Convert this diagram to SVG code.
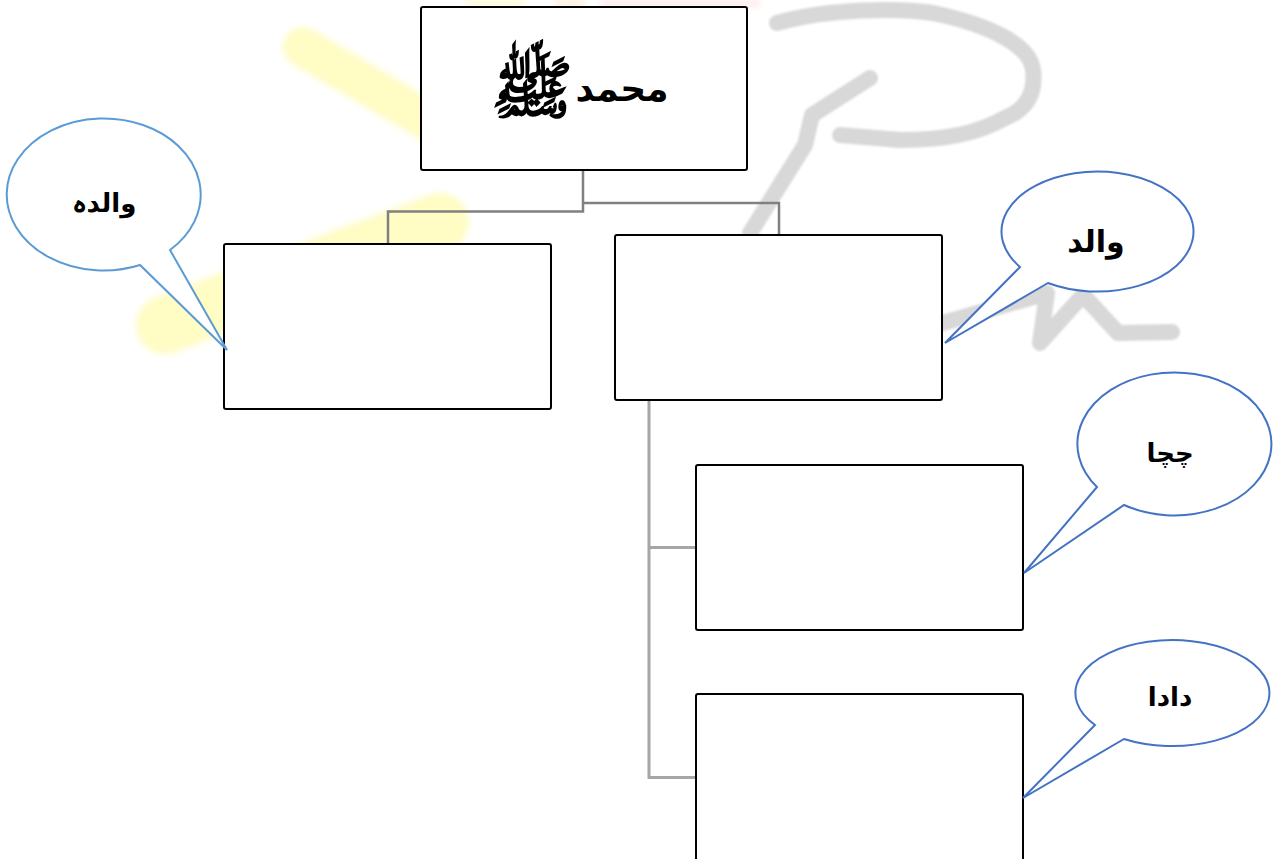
<svg xmlns="http://www.w3.org/2000/svg" width="1275" height="859" viewBox="0 0 1275 859">
<style>
.box{fill:#ffffff;stroke:#000000;stroke-width:2}
.conn{fill:none;stroke:#808080;stroke-width:2.5}
.conn2{fill:none;stroke:#a6a6a6;stroke-width:3}
.callout{fill:#ffffff;stroke:#4472c4;stroke-width:2;stroke-linejoin:miter}
.callout.light{stroke:#5b9bd5}
.lbl{font-family:"DejaVu Sans","Noto Sans",sans-serif;font-weight:bold;font-size:26px;fill:#000000;text-anchor:middle}
.wm-g{fill:none;stroke:#d8d8d8;stroke-width:16;stroke-linecap:round;stroke-linejoin:round}
.wm-y{fill:none;stroke:#fffcc4;stroke-linecap:round}
</style>
<defs>
<filter id="soft" x="-20%" y="-20%" width="140%" height="140%"><feGaussianBlur stdDeviation="3"/></filter>
<filter id="soft1" x="-10%" y="-10%" width="120%" height="120%"><feGaussianBlur stdDeviation="1"/></filter>
</defs>
<rect width="1275" height="859" fill="#ffffff"/>
<g id="watermark">
<g filter="url(#soft)">
<path class="wm-y" stroke-width="40" d="M303 47 L430 122"/>
<path class="wm-y" stroke-width="58" d="M165 325 L440 222"/>
<rect x="465" y="0" width="60" height="7" fill="#fffad6"/>
<rect x="555" y="0" width="30" height="7" fill="#ffeedd"/>
<rect x="600" y="0" width="160" height="7" fill="#ffeaea"/>
</g>
<g filter="url(#soft1)">
<path class="wm-g" d="M777 23 C830 8 900 8 933 13 C990 25 1030 45 1033 70 C1036 95 1025 110 1005 118 C980 132 950 140 900 140 L840 135"/>
<path class="wm-g" stroke-width="18" d="M870 78 L812 115 L805 145 L750 233"/>
<path class="wm-g" d="M943 323 L1047 293 L1040 343 L1083 295 L1118 333 L1172 332"/>
</g>
</g>
<g id="connectors">
<path class="conn" d="M583 170 V211.5 H388 V244"/>
<path class="conn" d="M583 203 H779 V235"/>
<path class="conn2" d="M649 400 V777.5 H696"/>
<path class="conn2" d="M649 547.5 H696"/>
</g>
<g id="node-muhammad">
<rect class="box" x="421" y="7" width="326" height="163" rx="2"/>
<text class="lbl" x="622" y="101" style="font-size:36px" direction="rtl">محمد</text>
<text class="lbl" x="532" y="112" style="font-size:68px" direction="rtl">ﷺ</text>
</g>
<g id="node-mother">
<rect class="box" x="224" y="244" width="327" height="165" rx="2"/>
</g>
<g id="node-father">
<rect class="box" x="615" y="235" width="327" height="165" rx="2"/>
</g>
<g id="node-uncle">
<rect class="box" x="696" y="465" width="327" height="165" rx="2"/>
</g>
<g id="node-grandfather">
<rect class="box" x="696" y="694" width="327" height="170" rx="2"/>
</g>
<g id="callout-mother">
<path class="callout light" d="M170 250 L227 350 L140 265 A97 76 0 1 1 170 250 Z"/>
<text class="lbl" x="104" y="212" direction="rtl">والدہ</text>
</g>
<g id="callout-father">
<path class="callout" d="M1020 267 L945 343 L1048 283 A96 60 0 1 0 1020 267 Z"/>
<text class="lbl" x="1096" y="252" style="font-size:30px" direction="rtl">والد</text>
</g>
<g id="callout-uncle">
<path class="callout" d="M1097 487 L1024 573 L1124 505 A97 71.5 0 1 0 1097 487 Z"/>
<text class="lbl" x="1170" y="462" direction="rtl">چچا</text>
</g>
<g id="callout-grandfather">
<path class="callout" d="M1095 725 L1023 798 L1124 739 A97 53 0 1 0 1095 725 Z"/>
<text class="lbl" x="1170" y="706" direction="rtl">دادا</text>
</g>
</svg>
